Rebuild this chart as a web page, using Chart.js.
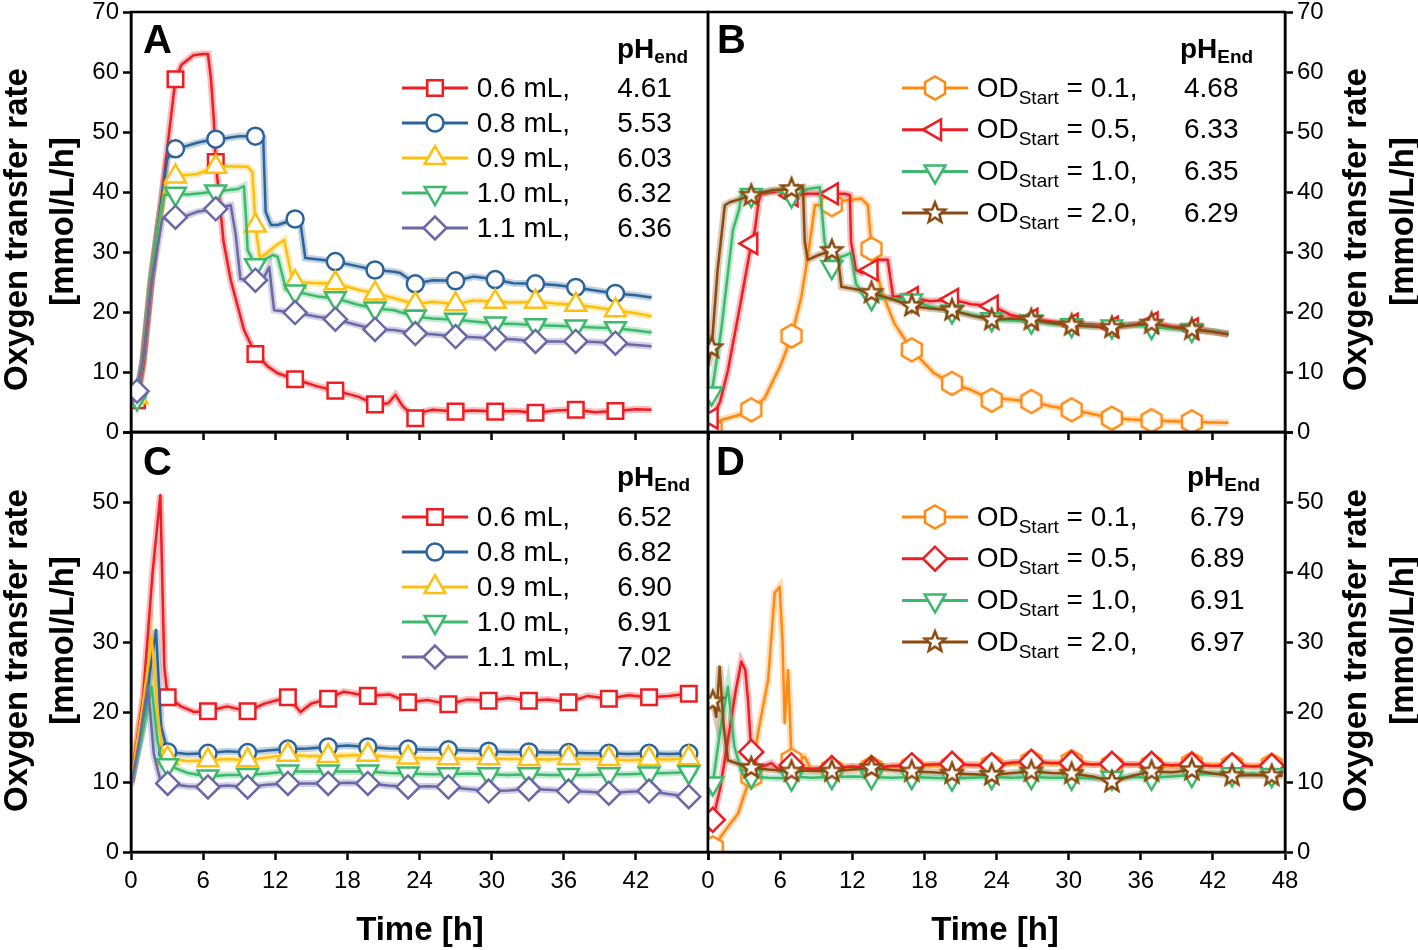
<!DOCTYPE html>
<html>
<head>
<meta charset="utf-8">
<script src="https://cdn.jsdelivr.net/npm/chart.js@4/dist/chart.umd.min.js"></script>
<style>
  body { margin: 0; background: #fff; width: 1418px; height: 950px; position: relative; overflow: hidden;
         font-family: "Liberation Sans", Arial, sans-serif; color: #000; }
  canvas { position: absolute; left: 0; top: 0; }
  .txt { position: absolute; white-space: nowrap; line-height: 1; }
  .ax { position: absolute; width: 420px; height: 33px; line-height: 33px; font-size: 33px; font-weight: bold;
        text-align: center; white-space: nowrap; transform: rotate(-90deg); }
</style>
</head>
<body>
<canvas id="cA" width="1418" height="950"></canvas>
<canvas id="cB" width="1418" height="950"></canvas>
<canvas id="cC" width="1418" height="950"></canvas>
<canvas id="cD" width="1418" height="950"></canvas>
<script>
// ---------- data: time [h] and OTR [mmol/L/h] ----------

// Panel A - filling volume
const tA_06 = [0, 0.5, 1.0, 1.7, 2.5, 3.0, 3.7, 4.2, 5.2, 6.0, 6.4, 6.65, 6.9, 7.05, 7.7, 8.3, 9.4, 10.35, 11.4, 12.2, 13.65, 15.5, 17, 18.9, 20.3, 21.4, 22.0, 22.6, 23.65, 24.4, 25.1, 27, 28.5, 30.3, 32, 33.65, 35.3, 37, 38.6, 40.3, 42, 43.3];
const vA_06 = [4.5, 5.3, 11, 25, 38, 47, 58.8, 61.2, 62.8, 63, 63, 58.9, 51.7, 45, 31.7, 25.3, 17, 13, 10.9, 9.8, 8.8, 7.6, 6.9, 5.9, 4.6, 4.8, 6.2, 4.3, 2.3, 3.4, 3.7, 3.4, 3.6, 3.4, 3.5, 3.2, 3.6, 3.7, 3.3, 3.5, 3.8, 3.7];
const tA_08 = [0, 0.5, 1.0, 1.7, 2.5, 3.0, 3.7, 4.5, 5.5, 6.2, 7.05, 8.0, 9.0, 10.35, 11.0, 11.2, 11.65, 12.2, 13.65, 14.1, 14.5, 15.8, 17, 18.9, 20.3, 21.9, 22.4, 23.65, 25.1, 27, 28.5, 30.3, 31.8, 33.65, 35.3, 37, 38.6, 40.3, 42, 43.3];
const vA_08 = [4.3, 6, 12, 26, 38, 45.5, 47.2, 47.6, 48.2, 48.5, 48.8, 49.0, 49.3, 49.3, 49, 36.7, 34.5, 34.5, 35.5, 34.8, 29, 28.7, 28.4, 27.6, 27, 26.7, 26.5, 24.7, 25.3, 25.2, 25.9, 25.4, 24.8, 24.7, 24.5, 24.1, 23.6, 23.1, 22.8, 22.4];
const tA_09 = [0, 0.5, 1.0, 1.7, 2.5, 2.9, 3.7, 4.4, 5.5, 7.05, 8.0, 9.7, 10.1, 10.35, 10.7, 11.1, 12.0, 12.75, 13.3, 13.65, 15.5, 17, 18.9, 20.3, 21.9, 23.65, 25.1, 27, 28.5, 30.3, 32, 33.65, 35.3, 37, 38.6, 40.3, 42, 43.3];
const vA_09 = [4.2, 5.8, 12, 26, 37, 42, 42.6, 42.8, 43, 44.2, 44.3, 44.2, 43.3, 34.4, 29.2, 29.5, 31, 32, 26.5, 25, 24.8, 24.8, 23.7, 23.1, 22.3, 21.3, 21.7, 21.3, 21.9, 21.7, 21.6, 21.7, 21.4, 21.2, 20.8, 20.3, 19.8, 19.3];
const tA_10 = [0, 0.5, 1.0, 1.7, 2.3, 2.75, 3.7, 4.7, 5.8, 7.05, 8.9, 9.4, 9.6, 9.7, 10.35, 11.1, 11.8, 12.2, 12.9, 13.65, 15.5, 17, 18.9, 20.3, 21.9, 23.65, 25.1, 27, 28.5, 30.3, 32, 33.65, 35.3, 37, 38.6, 40.3, 42, 43.3];
const vA_10 = [4.2, 5.6, 12, 26, 35, 39.5, 39.7, 39.6, 39.8, 40.1, 40.5, 41, 34.5, 30.3, 27.8, 28.7, 29.5, 29.2, 23.7, 23.4, 22.6, 22.3, 21.2, 20.6, 20.3, 19.2, 18.9, 18.7, 18.4, 18.1, 18.0, 17.8, 17.7, 17.6, 17.4, 17.3, 16.9, 16.6];
const tA_11 = [0, 0.5, 1.0, 1.7, 2.3, 2.6, 3.7, 4.7, 5.5, 7.05, 8.3, 8.7, 9.1, 10.35, 11.1, 11.5, 11.9, 12.75, 13.65, 15.5, 17, 18.9, 20.3, 21.9, 23.65, 25.1, 27, 28.5, 30.3, 32, 33.65, 35.3, 37, 38.6, 40.3, 42, 43.3];
const vA_11 = [4.4, 6.8, 12, 25, 32, 35.5, 35.8, 36.1, 36.7, 37.2, 37.8, 33, 25.5, 25.3, 25.9, 27.5, 20.3, 20.1, 19.9, 19.2, 18.8, 17.8, 17.1, 17.0, 16.4, 16.3, 15.9, 15.8, 15.6, 15.4, 15.1, 15.1, 15.1, 15.0, 14.8, 14.5, 14.3];
const mkA = [0.5, 3.7, 7.05, 10.35, 13.65, 17, 20.3, 23.65, 27, 30.3, 33.65, 37, 40.3];

// Panel B - start OD
const tB_01 = [0, 0.3, 1.1, 2.5, 3.6, 4.7, 6.1, 6.95, 7.76, 8.3, 8.9, 10.3, 11.4, 12.75, 13.3, 13.6, 14.4, 15.5, 16.95, 18.8, 20.3, 21.9, 23.6, 24.3, 26.9, 28.5, 30.25, 32, 33.6, 35.3, 36.9, 38.5, 40.25, 42, 43.3];
const vB_01 = [0.2, 0.5, 2, 2.8, 3.7, 5.6, 11.4, 16, 22.5, 29.2, 37.8, 37.9, 38.6, 38.9, 37.8, 30.5, 23.7, 18.1, 13.7, 9.8, 8.1, 7, 5.3, 5.6, 5.1, 4.3, 3.7, 3.0, 2.3, 2.1, 1.9, 1.8, 1.7, 1.6, 1.55];
const tB_05 = [0, 0.3, 1.0, 1.66, 2.8, 3.6, 3.9, 4.2, 4.4, 5.5, 6.4, 6.95, 8.3, 10.3, 11.4, 11.8, 11.9, 12.3, 12.8, 13.6, 14.1, 14.95, 15.4, 16.6, 16.95, 18.5, 20.3, 21.9, 23.6, 25.2, 26.9, 28.5, 30.25, 32, 33.6, 35.3, 36.9, 38.5, 40.25, 42, 43.3];
const vB_05 = [1, 2.3, 5, 10.3, 22.5, 31.4, 33.7, 38.3, 39.7, 40, 40.5, 39.4, 39.7, 39.7, 39.7, 39.5, 31.7, 27, 26.5, 27, 28.7, 28.7, 22.5, 22.8, 22.4, 21.8, 22.1, 21.3, 21.0, 19.5, 18.8, 18.4, 18.0, 17.9, 17.5, 17.9, 18.2, 17.6, 17.2, 16.7, 16.3];
const tB_10 = [0, 0.3, 1.1, 2.08, 2.6, 2.8, 3.6, 5.5, 6.95, 8.3, 9.3, 9.7, 10.3, 11.1, 11.9, 12.3, 12.75, 13.6, 15.5, 16.95, 18.5, 20.3, 21.9, 23.6, 25.2, 26.9, 28.5, 30.25, 32, 33.6, 35.3, 36.9, 38.5, 40.25, 42, 43.3];
const vB_10 = [4.5, 6.4, 17, 33.7, 37.2, 39.7, 39.5, 40.3, 39.4, 40.5, 40.8, 31.7, 27.5, 29.2, 29.8, 24.8, 23.4, 22.3, 22.3, 21.9, 20.9, 20.1, 19.6, 18.8, 18.6, 18.4, 18.1, 17.8, 17.7, 17.6, 17.9, 17.5, 17.2, 17.0, 16.8, 16.4];
const tB_20 = [0, 0.3, 0.8, 1.4, 1.8, 3.6, 5.3, 6.95, 7.9, 8.05, 8.3, 9.2, 10.3, 10.8, 11.1, 12.5, 13.6, 15.5, 16.95, 18.5, 20.3, 21.9, 23.6, 25.2, 26.9, 28.5, 30.25, 32, 33.6, 35.3, 36.9, 38.5, 40.25, 42, 43.3];
const vB_20 = [11, 14, 27, 37.8, 38.3, 39.4, 40.3, 40.5, 40.8, 31.7, 28.7, 29.5, 30.2, 29.2, 24.2, 23.7, 23.2, 22.0, 21.0, 20.6, 20.3, 19.4, 18.7, 18.9, 18.7, 18.2, 17.8, 17.6, 17.4, 17.8, 18.1, 17.5, 17.1, 16.7, 16.3];
const mkB = [0.3, 3.6, 6.95, 10.3, 13.6, 16.95, 20.3, 23.6, 26.9, 30.25, 33.6, 36.9, 40.25];

// Panel C - filling volume, buffered
const tC_tail = [4.7, 6.4, 8, 9.7, 11.3, 13.05, 14.7, 16.4, 18, 19.7, 21.4, 23.05, 24.7, 26.4, 28, 29.75, 31.4, 33.1, 34.7, 36.4, 38, 39.75, 41.4, 43.1, 44.7, 46.4, 47.1];
const tC_06 = [0, 1.0, 1.8, 2.44, 2.77, 3.05, 4.16, 5.27, 6.4, 8.0, 9.7, 11.1, 13.05, 14.1, 15.0, 16.4, 17.7, 19.7, 21.5, 23.05, 24.7, 26.4, 28, 29.75, 31.4, 33.1, 34.7, 36.4, 38, 39.75, 41.4, 43.1, 44.7, 46.4, 47.1];
const vC_06 = [10, 22, 40, 51, 26.5, 22.1, 20.8, 20.0, 20.1, 20.8, 20.1, 21.2, 22.1, 20.0, 21.2, 21.9, 22.9, 22.3, 22.5, 21.4, 21.7, 21.1, 21.8, 21.6, 22.0, 21.6, 21.8, 21.4, 22.3, 21.9, 22.4, 22.1, 22.3, 22.6, 22.4];
const tC_08 = [0, 1.0, 1.6, 2.08, 2.5, 3.05, ...tC_tail];
const vC_08 = [10, 18, 26, 31.7, 18, 14.3, 14.0, 14.1, 14.4, 14.2, 14.5, 14.7, 14.8, 15.0, 15.2, 15.0, 14.8, 14.7, 14.6, 14.6, 14.5, 14.4, 14.3, 14.3, 14.2, 14.2, 14.1, 14.1, 14.0, 14.1, 14.0, 14.1, 14.0];
const tC_09 = [0, 0.9, 1.72, 2.2, 2.6, 3.05, ...tC_tail];
const vC_09 = [10, 20, 30.8, 20, 14.5, 13.4, 13.0, 13.1, 13.3, 13.1, 13.5, 13.9, 13.7, 13.7, 13.8, 13.9, 13.6, 13.5, 13.4, 13.4, 13.3, 13.4, 13.3, 13.3, 13.2, 13.4, 13.3, 13.3, 13.1, 13.3, 13.2, 13.4, 13.3];
const tC_10 = [0, 0.8, 1.72, 2.2, 2.6, 3.05, ...tC_tail];
const vC_10 = [9.8, 16, 23.6, 16, 12.8, 12.4, 11.3, 10.8, 11.0, 11.0, 11.2, 11.5, 11.5, 11.5, 11.5, 11.5, 11.3, 11.2, 11.1, 11.1, 11.2, 11.1, 11.0, 11.1, 11.0, 11.0, 11.0, 11.1, 11.1, 11.2, 11.3, 11.4, 11.4];
const tC_11 = [0, 0.7, 1.39, 1.9, 2.4, 3.05, ...tC_tail];
const vC_11 = [9.5, 16, 23.9, 14, 10.5, 9.8, 9.4, 9.3, 9.5, 9.3, 9.6, 9.8, 9.8, 9.8, 9.9, 9.8, 9.5, 9.3, 9.4, 9.3, 9.0, 8.7, 8.8, 9.0, 8.9, 8.7, 8.6, 8.4, 8.6, 8.7, 8.3, 7.9, 8.1];
const mkC = [3.05, 6.4, 9.7, 13.05, 16.4, 19.7, 23.05, 26.4, 29.75, 33.1, 36.4, 39.75, 43.1, 46.4];

// Panel D - start OD, buffered
const tD_tail = [8.6, 10.3, 12, 13.6, 15.3, 16.95, 18.6, 20.3, 22, 23.6, 25.3, 26.9, 28.6, 30.25, 32, 33.6, 35.3, 36.9, 38.6, 40.25, 42, 43.6, 45.3, 46.9, 47.8];
const tD_01 = [0, 0.4, 1.66, 2.5, 3.33, 3.6, 4.16, 5.0, 5.55, 5.96, 6.2, 6.38, 6.66, 6.95, 7.3, 8.05, ...tD_tail];
const vD_01 = [0.3, 0.6, 3.6, 5.5, 9.8, 10.8, 17, 24.6, 37, 37.9, 30, 18.4, 26, 13.1, 13.0, 13.6, 11.7, 11.8, 12.2, 12.0, 12.3, 12.2, 12.4, 12.3, 12.5, 12.4, 12.6, 12.9, 12.6, 12.9, 12.5, 12.4, 12.5, 12.4, 12.3, 12.6, 12.4, 12.4, 12.3, 12.4, 12.2];
const tD_05 = [0, 0.4, 1.0, 1.66, 2.3, 2.77, 3.1, 3.33, 3.6, 4.16, 5.27, 5.96, 6.95, 7.6, ...tD_tail];
const vD_05 = [3, 4.6, 9, 16, 23, 27.2, 26, 21.7, 14.3, 12, 12.7, 11.7, 12.4, 12.0, 11.9, 12.0, 12.2, 12.0, 12.3, 12.4, 12.5, 12.6, 12.4, 12.4, 12.8, 12.9, 12.7, 12.7, 12.5, 12.6, 12.5, 12.6, 12.4, 12.5, 12.3, 12.4, 12.2, 12.3, 12.2];
const tD_10 = [0, 0.4, 1.1, 1.66, 2.2, 2.77, 3.6, 5.0, 6.95, 7.8, ...tD_tail];
const vD_10 = [8, 9.8, 18.4, 23.6, 15, 11.7, 10.8, 10.6, 10.5, 10.7, 10.6, 10.7, 10.8, 10.7, 10.6, 10.7, 10.6, 10.5, 10.6, 10.7, 10.6, 10.7, 10.6, 10.6, 10.5, 10.6, 10.7, 10.6, 10.8, 11.0, 11.2, 11.1, 11.2, 11.0, 11.1];
const tD_20 = [0, 0.4, 0.69, 0.97, 1.3, 1.66, 2.5, 3.6, 5.0, 6.95, 7.8, ...tD_tail];
const vD_20 = [21, 21.5, 19.3, 26.5, 18, 13.1, 12.6, 12.0, 11.8, 11.5, 11.6, 11.6, 11.5, 11.8, 12.0, 11.7, 11.5, 11.4, 11.2, 11.1, 11.0, 11.3, 11.5, 11.3, 11.2, 10.8, 10.0, 10.9, 11.5, 11.4, 11.7, 11.2, 10.9, 11.0, 10.9, 10.9];
const mkD = [0.4, 3.6, 6.95, 10.3, 13.6, 16.95, 20.3, 23.6, 26.9, 30.25, 33.6, 36.9, 40.25, 43.6, 46.9];

// legend texts
const volLabels = ['0.6 mL,', '0.8 mL,', '0.9 mL,', '1.0 mL,', '1.1 mL,'];
const odLabels = ['0.1', '0.5', '1.0', '2.0'];
const phA = ['4.61', '5.53', '6.03', '6.32', '6.36'];
const phB = ['4.68', '6.33', '6.35', '6.29'];
const phC = ['6.52', '6.82', '6.90', '6.91', '7.02'];
const phD = ['6.79', '6.89', '6.91', '6.97'];

// ---------- styles ----------
const FONT = '"Liberation Sans", Arial, sans-serif';
const RED = '#ee1d23', BLUE = '#2c6399', YEL = '#fdc00f', GRN = '#3cb96c',
      PUR = '#6b68a6', ORG = '#ff8a12', BRN = '#8b4a10';

function alpha(hex, a) {
  const n = parseInt(hex.slice(1), 16);
  return `rgba(${n >> 16},${(n >> 8) & 255},${n & 255},${a})`;
}

// hexagon and five-point star are not built into Chart.js, so draw them once
function shapeImage(kind, color) {
  const c = document.createElement('canvas');
  c.width = c.height = 30;
  const g = c.getContext('2d');
  g.lineWidth = 2.5; g.strokeStyle = color; g.fillStyle = '#fff'; g.lineJoin = 'miter';
  g.beginPath();
  const n = kind === 'hex' ? 6 : 10;
  for (let k = 0; k < n; k++) {
    const a = -Math.PI / 2 + k * 2 * Math.PI / n;
    const r = kind === 'hex' ? 11.5 : (k % 2 ? 4.6 : 10.8);
    const x = 15 + r * Math.cos(a), y = 15 + r * Math.sin(a);
    k ? g.lineTo(x, y) : g.moveTo(x, y);
  }
  g.closePath(); g.fill(); g.stroke();
  return c;
}

const seriesA = [
  {t: tA_06, v: vA_06, color: RED, style: 'rect', r: 11},
  {t: tA_08, v: vA_08, color: BLUE, style: 'circle', r: 8.5},
  {t: tA_09, v: vA_09, color: YEL, style: 'triangle', r: 12},
  {t: tA_10, v: vA_10, color: GRN, style: 'triangle', rot: 180, r: 12},
  {t: tA_11, v: vA_11, color: PUR, style: 'rectRot', r: 11.5}
];
const seriesB = [
  {t: tB_01, v: vB_01, color: ORG, style: shapeImage('hex', ORG), r: 11},
  {t: tB_05, v: vB_05, color: RED, style: 'triangle', rot: -90, r: 12},
  {t: tB_10, v: vB_10, color: GRN, style: 'triangle', rot: 180, r: 12},
  {t: tB_20, v: vB_20, color: BRN, style: shapeImage('star', BRN), r: 11}
];
const seriesC = [
  {t: tC_06, v: vC_06, color: RED, style: 'rect', r: 11},
  {t: tC_08, v: vC_08, color: BLUE, style: 'circle', r: 8.5},
  {t: tC_09, v: vC_09, color: YEL, style: 'triangle', r: 12},
  {t: tC_10, v: vC_10, color: GRN, style: 'triangle', rot: 180, r: 12},
  {t: tC_11, v: vC_11, color: PUR, style: 'rectRot', r: 11.5}
];
const seriesD = [
  {t: tD_01, v: vD_01, color: ORG, style: shapeImage('hex', ORG), r: 11},
  {t: tD_05, v: vD_05, color: RED, style: 'rectRot', r: 12},
  {t: tD_10, v: vD_10, color: GRN, style: 'triangle', rot: 180, r: 12},
  {t: tD_20, v: vD_20, color: BRN, style: shapeImage('star', BRN), r: 11}
];

function buildDatasets(series, marks) {
  const out = [];
  series.forEach((s, i) => {
    // soft band under each mean line
    out.push({
      data: s.t.map((x, k) => ({x, y: s.v[k]})),
      borderColor: alpha(s.color, 0.3), borderWidth: 7, pointRadius: 0, order: 100
    });
    out.push({
      data: s.t.map((x, k) => ({x, y: s.v[k]})),
      borderColor: s.color, borderWidth: 2.5, borderJoinStyle: 'round',
      pointStyle: s.style, rotation: s.rot || 0,
      pointRadius: ctx => (ctx.raw && marks.includes(ctx.raw.x)) ? s.r : 0,
      pointBorderWidth: 2.5, pointBackgroundColor: '#fff', pointBorderColor: s.color,
      order: series.length - i
    });
  });
  return out;
}

const framePlugin = {
  id: 'frame',
  afterDraw(chart) {
    const {ctx, chartArea: a} = chart;
    ctx.save();
    ctx.lineWidth = 2.5; ctx.strokeStyle = '#000';
    ctx.strokeRect(a.left, a.top, a.right - a.left, a.bottom - a.top);
    ctx.restore();
  }
};

function keyPlugin(series, x0, y0, dy) {
  return {
    id: 'markerKey',
    afterDraw(chart) {
      const ctx = chart.ctx;
      series.forEach((s, i) => {
        const y = y0 + dy * i;
        ctx.save();
        ctx.strokeStyle = s.color; ctx.lineWidth = 3;
        ctx.beginPath(); ctx.moveTo(x0, y); ctx.lineTo(x0 + 66, y); ctx.stroke();
        ctx.fillStyle = '#fff'; ctx.lineWidth = 2.5;
        Chart.helpers.drawPoint(ctx, {pointStyle: s.style, rotation: s.rot || 0, radius: s.r, borderWidth: 2.5}, x0 + 33, y);
        ctx.restore();
      });
    }
  };
}

function makePanel(id, series, marks, opt) {
  const tickFont = {family: FONT, size: 24, lineHeight: 1};
  const axisLine = {display: true, color: '#000', width: 2.5};
  const tickGrid = {drawOnChartArea: false, drawTicks: true, tickLength: 8, tickWidth: 2.5, tickColor: '#000'};
  new Chart(document.getElementById(id), {
    type: 'line',
    data: {datasets: buildDatasets(series, marks)},
    options: {
      responsive: false, animation: false, events: [],
      layout: {padding: opt.pad},
      plugins: {legend: {display: false}, tooltip: {enabled: false}},
      elements: {line: {tension: 0}},
      scales: {
        x: {
          type: 'linear', min: 0, max: 48,
          afterFit: s => { s.height = 40; s.paddingLeft = 0; s.paddingRight = 0; },
          ticks: {display: opt.xLabels, stepSize: 6, autoSkip: false, maxRotation: 0, color: '#000', font: tickFont, padding: 9,
                  callback: v => (opt.hideLastX && v === 48) ? '' : v},
          grid: tickGrid, border: axisLine
        },
        y: {
          position: opt.yPos, min: 0, max: opt.yMax,
          afterFit: s => { s.width = 60; s.paddingTop = 0; s.paddingBottom = 0; },
          ticks: {stepSize: 10, autoSkip: false, color: '#000', font: tickFont, padding: 4,
                  callback: v => v > opt.yShowMax ? '' : v},
          grid: tickGrid, border: axisLine
        }
      }
    },
    plugins: [framePlugin, keyPlugin(series, opt.key[0], opt.key[1], opt.key[2])]
  });
}

// plot areas: A/C x 131-708, B/D x 708-1285, rows y 12-432 and 432-852
makePanel('cA', seriesA, mkA, {pad: {left: 71, right: 710, top: 12, bottom: 478}, yPos: 'left', yMax: 70, yShowMax: 70, xLabels: false, key: [402, 88, 35]});
makePanel('cB', seriesB, mkB, {pad: {left: 708, right: 73, top: 12, bottom: 478}, yPos: 'right', yMax: 70, yShowMax: 70, xLabels: false, key: [902, 88, 41.7]});
makePanel('cC', seriesC, mkC, {pad: {left: 71, right: 710, top: 432, bottom: 58}, yPos: 'left', yMax: 60, yShowMax: 50, xLabels: true, hideLastX: true, key: [402, 517, 35]});
makePanel('cD', seriesD, mkD, {pad: {left: 708, right: 73, top: 432, bottom: 58}, yPos: 'right', yMax: 60, yShowMax: 50, xLabels: true, key: [902, 517, 41.7]});

// ---------- text ----------
function addText(html, x, baseline, size, bold, align) {
  const d = document.createElement('div');
  d.className = 'txt';
  d.innerHTML = html;
  d.style.fontSize = size + 'px';
  d.style.fontWeight = bold ? 'bold' : 'normal';
  d.style.top = (baseline - 0.8465 * size) + 'px';
  if (align === 'center') {
    d.style.left = (x - 300) + 'px'; d.style.width = '600px'; d.style.textAlign = 'center';
  } else {
    d.style.left = x + 'px';
  }
  document.body.appendChild(d);
}
function addAxisTitle(text, cx, cy) {
  const d = document.createElement('div');
  d.className = 'ax';
  d.textContent = text;
  d.style.left = (cx - 210) + 'px';
  d.style.top = (cy - 16.5) + 'px';
  document.body.appendChild(d);
}
const sub = (s, top) => `<span style="font-size:19px;position:relative;top:${top}px">${s}</span>`;

// panel letters
addText('A', 143, 52.7, 40, true);
addText('B', 717, 52.7, 40, true);
addText('C', 143, 474.5, 40, true);
addText('D', 716, 475, 40, true);

// pH headers
addText('pH' + sub('end', 5), 617, 59, 28, true);
addText('pH' + sub('End', 5), 1180, 59, 28, true);
addText('pH' + sub('End', 5), 617, 487, 28, true);
addText('pH' + sub('End', 5), 1187, 487, 28, true);

// legend rows
volLabels.forEach((s, i) => {
  addText(s, 476.7, 97.5 + 35 * i, 28, false);
  addText(phA[i], 617.3, 97.5 + 35 * i, 28, false);
  addText(s, 476.7, 526.5 + 35 * i, 28, false);
  addText(phC[i], 617.3, 526.5 + 35 * i, 28, false);
});
odLabels.forEach((s, i) => {
  const lab = 'OD' + sub('Start', 7) + ' = ' + s + ',';
  addText(lab, 976.7, 97.5 + 41.7 * i, 28, false);
  addText(phB[i], 1184, 97.5 + 41.7 * i, 28, false);
  addText(lab, 976.7, 526.5 + 41.7 * i, 28, false);
  addText(phD[i], 1190, 526.5 + 41.7 * i, 28, false);
});

// axis titles
addText('Time [h]', 420, 940, 33, true, 'center');
addText('Time [h]', 995, 940, 33, true, 'center');
[[15.2, 60.6], [1354, 1401]].forEach(([x1, x2]) => {
  addAxisTitle('Oxygen transfer rate', x1, 229);
  addAxisTitle('[mmol/L/h]', x2, 221);
  addAxisTitle('Oxygen transfer rate', x1, 650);
  addAxisTitle('[mmol/L/h]', x2, 640);
});
</script>
</body>
</html>
